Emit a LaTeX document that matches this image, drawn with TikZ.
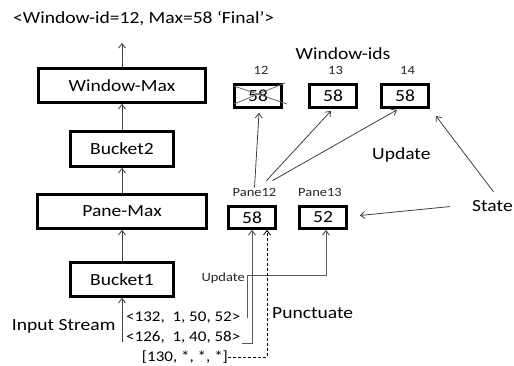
\documentclass[tikz,border=0pt]{standalone}
\usepackage{fontspec}
\setmainfont{Carlito}[FakeStretch=1.15]
\usetikzlibrary{arrows.meta}
\begin{document}
\begin{tikzpicture}[x=1pt,y=-1pt,
  big/.style={font=\fontsize{17}{20}\selectfont},
  mid/.style={font=\fontsize{14.8}{17}\selectfont},
  small/.style={font=\fontsize{12.6}{15}\selectfont, text=black!85},
  opbox/.style={draw, line width=2.7pt, inner sep=0pt, big},
  valbox/.style={draw, line width=2.7pt, inner sep=0pt, minimum width=48pt, minimum height=24pt, big},
  lbl/.style={inner sep=0pt},
  tip/.style={-{Straight Barb[length=4.5pt,width=7pt]}},
  flow/.style={draw=black!75, line width=0.8pt, tip},
  feed/.style={draw=black!65, line width=1pt, tip},
  punct/.style={draw=black, line width=0.8pt, dash pattern=on 3pt off 2pt, tip}]
\useasboundingbox (0,0) rectangle (514,366);

% operator pipeline
\node[lbl, big, anchor=base west] (res) at (13,24) {<Window-id=12, Max=58 ‘Final’>};
\node[opbox, minimum width=167pt, minimum height=34pt] (wm) at (122,85.5) {Window-Max};
\node[opbox, minimum width=103pt, minimum height=35pt] (bk2) at (122,149) {Bucket2};
\node[opbox, minimum width=169pt, minimum height=34pt] (pm) at (122,211.5) {Pane-Max};
\node[opbox, minimum width=103pt, minimum height=34pt] (bk1) at (122,279.5) {Bucket1};
\coordinate (out) at (122,43);
\coordinate (in) at (122,342);

\draw[flow] (wm.north) -- (out);
\draw[flow] (bk2.north) -- (wm.south);
\draw[flow] (pm.north) -- (bk2.south);
\draw[flow] (bk1.north) -- (pm.south);
\draw[flow] (in) -- (bk1.south);

% input stream
\node[lbl, big, anchor=base west] (ins) at (11.7,330) {Input Stream};
\node[lbl, mid, anchor=base west] (t1) at (126,321.7) {<132,\ \ 1, 50, 52>};
\node[lbl, mid, anchor=base west] (t2) at (126,341.7) {<126,\ \ 1, 40, 58>};
\node[lbl, mid, anchor=base west] (t3) at (141.7,361.5) {[130, *, *, *]};

% window state
\node[lbl, big, anchor=base] (wids) at (343,60) {Window-ids};
\node[lbl, small, anchor=base] (l12) at (261,75) {12};
\node[lbl, small, anchor=base] (l13) at (335.5,75) {13};
\node[lbl, small, anchor=base] (l14) at (407.5,75) {14};
\node[valbox, minimum width=47pt, minimum height=23pt] (w12) at (258,96) {58};
\node[valbox, minimum width=47pt, minimum height=23pt] (w13) at (333,96) {58};
\node[valbox, minimum width=47pt, minimum height=23pt] (w14) at (405,96) {58};
\draw[black!60, line width=0.8pt] (234,86) -- (287,104);
\draw[black!60, line width=0.8pt] (234,104) -- (285,83);

% pane state
\node[lbl, small, anchor=base] (lp12) at (254.5,197) {Pane12};
\node[lbl, small, anchor=base] (lp13) at (320,197) {Pane13};
\node[valbox, minimum width=47pt, minimum height=22pt] (p12) at (252,217.5) {58};
\node[valbox, minimum width=47pt, minimum height=22pt] (p13) at (323,217.5) {52};

\node[lbl, big, anchor=base west] (upd) at (372,160) {Update};
\node[lbl, big, anchor=base west] (st) at (472,212) {State};
\node[lbl, small, anchor=base east] (upd2) at (245,281.7) {Update};
\node[lbl, big, anchor=base west] (pun) at (272,318) {Punctuate};

% pane to window updates
\draw[flow] ([yshift=1pt]lp12.north) -- ([xshift=1pt,yshift=-4pt]w12.south);
\draw[flow] ([xshift=12pt,yshift=8pt]lp12.north) -- ([xshift=-2pt,yshift=-2pt]w13.south);
\draw[flow] ([xshift=18pt,yshift=8pt]lp12.north) -- ([xshift=-8pt,yshift=-1pt]w14.south);

% state pointers
\draw[flow] ([xshift=-22pt]st.west) -- ([xshift=12pt,yshift=2pt]p13.east);
\draw[flow] ([xshift=1pt,yshift=9pt]st.north) -- ([xshift=6pt,yshift=-7pt]w14.south east);

% tuples feeding panes
\coordinate (ua) at (242,343.3);
\coordinate (ub) at (247,275);
\draw[feed] (ua) -| (p12.south);
\draw[feed] (ub |- t1.east) -- (ub) -| ([xshift=3pt]p13.south);
\draw[punct] (t3.east) -| ([xshift=15pt]p12.south);
\end{tikzpicture}
\end{document}
